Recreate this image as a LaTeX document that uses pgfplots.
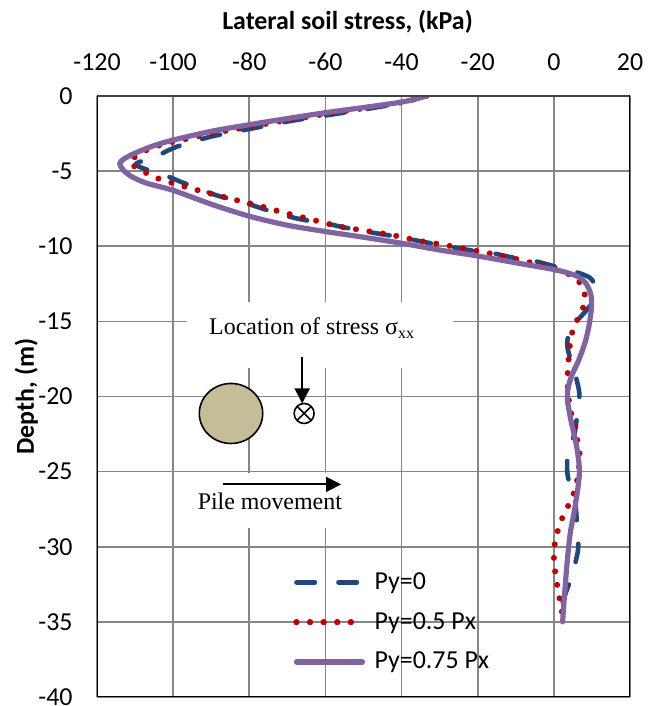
\documentclass[border=0pt]{standalone}
\usepackage{pgfplots}
\pgfplotsset{compat=1.18}
\usepackage{fontspec}
\setmainfont{Carlito}
\newfontfamily\serif{Liberation Serif}
\usetikzlibrary{arrows.meta}
\definecolor{cblue}{RGB}{31,73,125}
\definecolor{cred}{RGB}{192,0,0}
\definecolor{cpurple}{RGB}{128,100,162}
\definecolor{cgrid}{RGB}{134,134,134}
\definecolor{ctan}{RGB}{196,189,151}
\pgfplotsset{
  longleg/.style={legend image code/.code={\draw[##1] (0bp,0bp) -- (33bp,0bp);}},
  shortleg/.style={legend image code/.code={\path (0bp,0bp) -- (33bp,0bp); \draw[##1] (0bp,0bp) -- (27.3bp,0bp);}},
}
\begin{document}
\begin{tikzpicture}
\begin{axis}[
  scale only axis, width=266.5bp, height=300.5bp,
  xmin=-120, xmax=20, ymin=-40, ymax=0,
  xtick={-120,-100,...,20}, ytick={-40,-35,...,0},
  xticklabel pos=upper,
  grid=major, major grid style={line width=0.85bp, cgrid},
  tick style={draw=none},
  axis line style={draw=none},
  /pgf/number format/assume math mode=true,
  ticklabel style={font=\fontsize{13}{15}\selectfont},
  xticklabel style={yshift=9.3bp},
  yticklabel style={xshift=-8.7bp},
  xlabel={Lateral soil stress, (kPa)},
  ylabel={Depth, (m)},
  label style={font=\fontsize{13}{15}\selectfont\bfseries},
  xlabel style={at={(axis description cs:0.47,1)}, anchor=center, yshift=37bp},
  ylabel style={at={(axis description cs:0,0.5)}, anchor=center, yshift=35.3bp},
  legend style={at={(axis cs:-68.5,-31.15)}, anchor=north west, draw=none, fill=none,
    inner sep=0pt, row sep=2bp, column sep=0.6bp, font=\fontsize{13}{15}\selectfont,
    nodes={inner sep=4bp}},
  legend cell align=left,
  longleg,
]
\addplot[cblue, line width=2.3bp, line cap=round, dash pattern=on 9.2bp off 11.8bp, smooth] coordinates {
(-33.5,0) (-40,-0.45) (-50,-0.9) (-60,-1.3) (-70,-1.7) (-80,-2.2) (-90,-2.7) (-99,-3.37)
(-103.8,-3.93) (-107.5,-4.25) (-109.8,-4.55) (-107.5,-4.85) (-102.9,-5.2) (-98.1,-5.7)
(-92.4,-6.26) (-88.1,-6.65) (-81.9,-7.04) (-77.1,-7.45) (-71,-7.92) (-66.6,-8.2)
(-59.6,-8.5) (-55.2,-8.74) (-49.2,-9.03) (-43.9,-9.25) (-39.1,-9.47) (-32.1,-9.81)
(-21.2,-10.3) (-16.3,-10.45) (-11.1,-10.74) (-5,-10.99) (-0.1,-11.32) (5.6,-11.7)
(9.5,-12.1) (10.8,-12.7) (10.4,-13.6) (8.6,-14.25) (6,-15) (4,-15.8) (3.5,-16.5)
(4,-17.2) (5,-18) (6,-18.9) (6.7,-19.8) (6.5,-20.7) (6,-21.5) (5.4,-22.5) (4,-23.5)
(3.5,-24.3) (3.6,-25.2) (4.5,-26.2) (5.6,-27) (6,-28.2) (6.4,-29.5) (6.3,-30.3)
(5.6,-31.1) (4.5,-32.1) (2.8,-33.3) (2,-34) (2.2,-35)
};
\addlegendentry{Py=0}
\addplot[cred, line width=3bp, line cap=round, dash pattern=on 0bp off 6.8bp, smooth, shortleg] coordinates {
(-33.5,0) (-40,-0.42) (-50,-0.82) (-60,-1.2) (-70,-1.6) (-80,-2.05) (-90,-2.5) (-100,-3.05)
(-104.8,-3.37) (-107.8,-3.71) (-110.9,-4.22) (-111.3,-4.5) (-108.7,-4.88) (-105.6,-5.33)
(-102.1,-5.64) (-98.8,-5.9) (-91.8,-6.39) (-84.8,-6.84) (-77.8,-7.28) (-70.8,-7.77)
(-63.8,-8.21) (-56.8,-8.66) (-50,-8.95) (-42.6,-9.25) (-35.6,-9.63) (-28.6,-9.92)
(-21.6,-10.25) (-14.6,-10.59) (-7.6,-10.99) (-0.6,-11.47) (3.4,-11.8) (6,-12.2)
(7.7,-12.8) (8.2,-13.7) (6.7,-14.6) (5.1,-15.5) (4.3,-16.4) (4.0,-17.2) (3.7,-18.1)
(3.6,-19.0) (3.8,-19.9) (4.3,-20.9) (5.4,-21.8) (6,-22.7) (6.7,-23.6) (6.7,-24.4)
(6.3,-25.3) (5.6,-26.2) (4.1,-27.1) (2.5,-27.9) (1.2,-28.8) (0.3,-29.7) (0.0,-30.6)
(0.2,-31.4) (0.7,-32.3) (1.4,-33.3) (2.0,-34.2) (2.9,-35.1)
};
\addlegendentry{Py=0.5 Px}
\addplot[cpurple, line width=2.6bp, line cap=round, smooth] coordinates {
(-33.5,0) (-39.5,-0.38) (-49.5,-0.75) (-59.7,-1.1) (-70,-1.5) (-79.8,-1.9) (-90,-2.35)
(-100,-2.93) (-105,-3.3) (-110,-3.8) (-113,-4.2) (-114,-4.5) (-113.2,-4.9) (-111,-5.35)
(-107,-5.8) (-100,-6.28) (-90,-7.2) (-80,-8.0) (-70,-8.6) (-60,-9.02) (-50,-9.4)
(-40,-9.8) (-30,-10.25) (-20,-10.65) (-10,-11.1) (0,-11.55) (4,-11.8) (6.5,-12.05)
(8.5,-12.5) (9.7,-13.2) (9.9,-14.0) (9.3,-15.2) (8.2,-16.4) (6.5,-17.6) (4.7,-18.6)
(3.7,-19.5) (3.6,-20.3) (4.5,-21.6) (6.0,-23.35) (6.7,-25.1) (5.6,-27.3) (4.3,-29.1)
(3.4,-31.3) (2.7,-33.55) (2.3,-35.0)
};
\addlegendentry{Py=0.75 Px}
% annotation boxes
\fill[white] (axis cs:-96.4,-13.71) rectangle (axis cs:-26.5,-18.11);
\fill[white] (axis cs:-96,-25.1) rectangle (axis cs:-50,-28.75);
\node[font=\serif\fontsize{12}{14}\selectfont] at (axis cs:-63.5,-15.45) {Location of stress σ\textsubscript{xx}};
\node[font=\serif\fontsize{12}{14}\selectfont] at (axis cs:-74.6,-27.0) {Pile movement};
\draw[line width=1bp, -{Triangle[width=7.5bp,length=7.5bp]}] (axis cs:-66.1,-17.36) -- (axis cs:-66.1,-20.46);
\draw[line width=1bp, -{Triangle[width=7.5bp,length=7.5bp]}] (axis cs:-86.8,-25.85) -- (axis cs:-55.9,-25.85);
\draw[fill=ctan, line width=0.8bp] (axis cs:-84.8,-21.13) ellipse [x radius=15.85bp, y radius=15bp];
\draw[fill=white, line width=0.8bp] (axis cs:-65.6,-21.13) circle [radius=5bp];
\draw[line width=0.8bp] ([shift={(45:5bp)}]axis cs:-65.6,-21.13) -- ([shift={(225:5bp)}]axis cs:-65.6,-21.13);
\draw[line width=0.8bp] ([shift={(135:5bp)}]axis cs:-65.6,-21.13) -- ([shift={(315:5bp)}]axis cs:-65.6,-21.13);
% frame
\draw[line width=1bp, black!75] (rel axis cs:0,1) -- (rel axis cs:1,1);
\draw[line width=1.3bp, black, line cap=rect] (rel axis cs:0,1) -- (rel axis cs:0,0) -- (rel axis cs:1,0) -- (rel axis cs:1,1);
\end{axis}
\pgfresetboundingbox
\path ([shift={(-48.5bp,-4.5bp)}]current axis.south west) rectangle ([shift={(13.5bp,48bp)}]current axis.north east);
\end{tikzpicture}
\end{document}
